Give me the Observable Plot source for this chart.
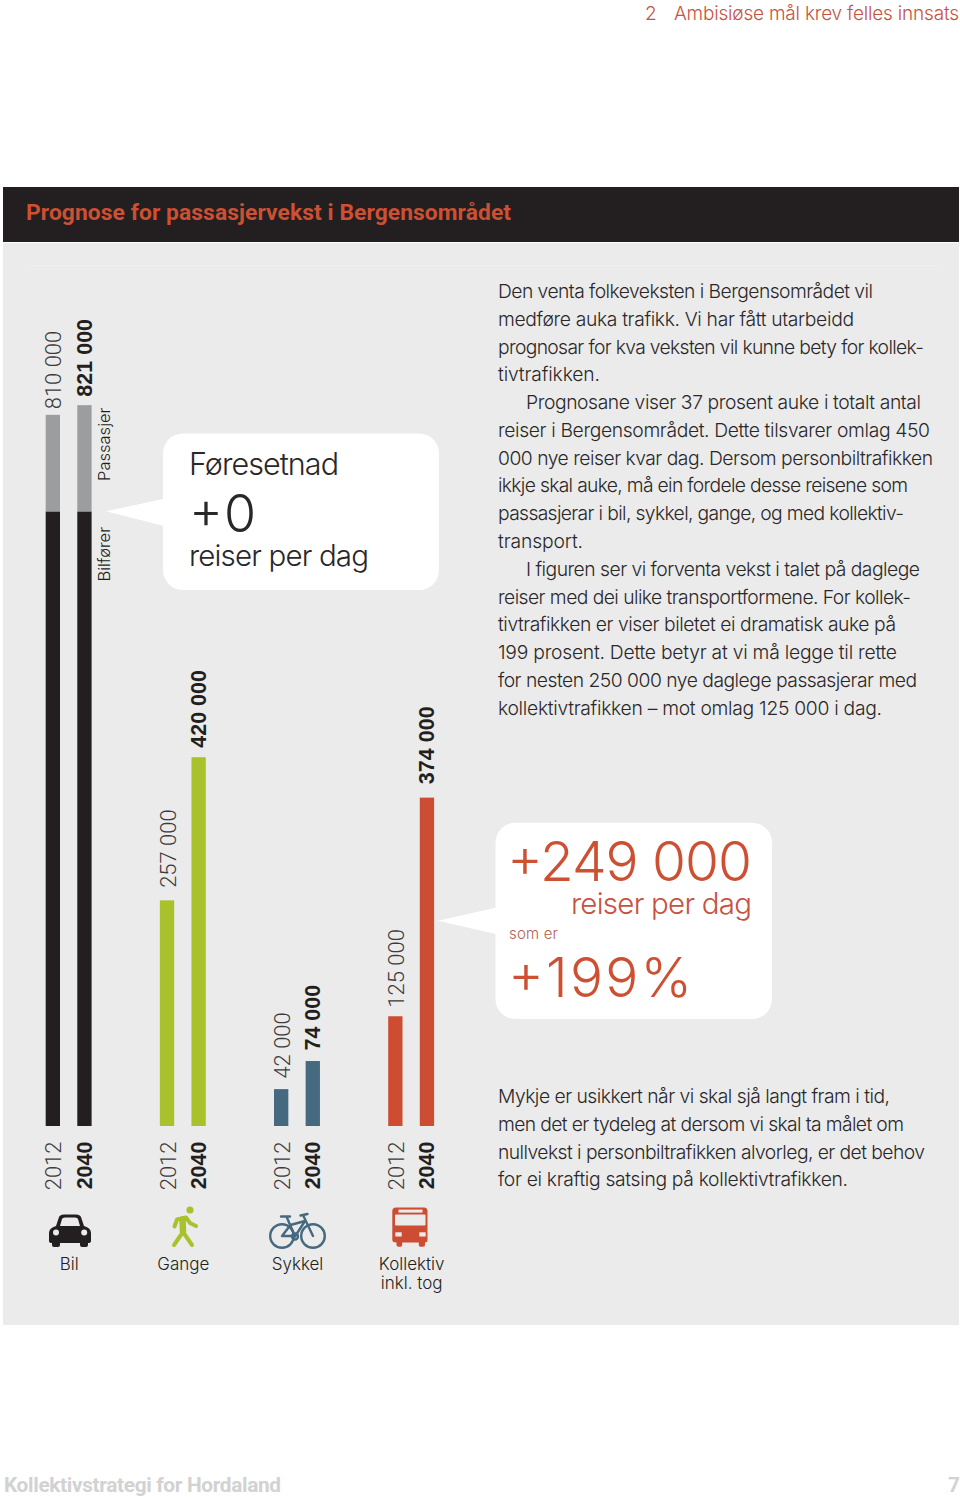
<!DOCTYPE html>
<html lang="nn">
<head>
<meta charset="utf-8">
<script src="https://cdn.jsdelivr.net/npm/d3@7"></script>
<script src="https://cdn.jsdelivr.net/npm/@observablehq/plot@0.6"></script>
<style>
html,body{margin:0;padding:0;background:#fff;width:960px;height:1497px;overflow:hidden}
#band{position:absolute;left:3px;top:187px;width:956px;height:55px;background:#231f20}
#chart{position:absolute;left:0;top:243px;width:960px;height:1082px}
#chart svg{display:block;background:transparent}
#panel{position:absolute;left:3px;top:243px;width:956px;height:1082px;background:#ebebeb}
#overlay{position:absolute;left:0;top:0}
</style>
</head>
<body>
<div id="band"></div>
<div id="panel"></div>
<div id="chart"></div>
<svg id="overlay" width="960" height="1497" viewBox="0 0 960 1497" xmlns="http://www.w3.org/2000/svg"></svg>
<script>
// ---- chart data (daily trips) ----
const modes = ["Bil", "Gange", "Sykkel", "Kollektiv"];
const modeLabels = ["Bil", "Gange", "Sykkel", "Kollektiv\ninkl. tog"];
const years = [2012, 2040];
const totals2012 = [810000, 257000, 42000, 125000];
const totals2040 = [821000, 420000, 74000, 374000];
const carDrivers = [700000, 700000];      // Bilfører 2012, 2040
const carPassengers = [110000, 121000];   // Passasjer 2012, 2040
const partKeys = ["Bilfører", "Passasjer", "Gange", "Sykkel", "Kollektiv"];
const partColors = ["#231f20", "#9c9d9f", "#a9c22c", "#45697f", "#cd4d33"];
// gap in px between bar end and its value label
const gaps2012 = [6, 13, 11, 9];
const gaps2040 = [9, 10, 11, 14];

// ---- derived tables ----
const fmt = v => String(v).replace(/\B(?=(\d{3})+$)/g, " ");
const bars = [];
years.forEach((year, j) => {
  bars.push({mode: "Bil", year, part: "Bilfører", value: carDrivers[j]});
  bars.push({mode: "Bil", year, part: "Passasjer", value: carPassengers[j]});
});
modes.slice(1).forEach((mode, i) => {
  bars.push({mode, year: 2012, part: mode, value: totals2012[i + 1]});
  bars.push({mode, year: 2040, part: mode, value: totals2040[i + 1]});
});
const labels2012 = modes.map((mode, i) => ({mode, year: 2012, value: totals2012[i]}));
const labels2040 = modes.map((mode, i) => ({mode, year: 2040, value: totals2040[i]}));
const modeRows = modes.map((mode, i) => ({mode, label: modeLabels[i]}));

const light = "Roboto, sans-serif";
const bold = "'Liberation Sans', Arial, sans-serif";
const ui = "Inter, sans-serif";
const rot = {rotate: -90, lineAnchor: "middle"};
const style2012 = {fontFamily: light, fontWeight: 300, fontSize: 22, fill: "#3d3a3b", dx: 1};
const style2040 = {fontFamily: bold, fontWeight: 700, fontSize: 21.5, fill: "#231f20"};

const chart = Plot.plot({
  width: 960, height: 1082,
  marginTop: 0, marginBottom: 199, marginLeft: 28.4, marginRight: 508.6,
  style: {background: "transparent", overflow: "visible"},
  fx: {domain: modes, axis: null, paddingInner: 0.2949, paddingOuter: 0, round: false, label: null},
  x: {type: "band", domain: years, axis: null, padding: 0.547, round: false, label: null},
  y: {domain: [0, 1005700], axis: null, label: null},
  color: {domain: partKeys, range: partColors},
  marks: [
    Plot.barY(bars, {fx: "mode", x: "year", y: "value", fill: "part", order: partKeys}),
    ...labels2012.map((d, i) => Plot.text([d], {fx: "mode", x: "year", y: "value", text: r => fmt(r.value), ...rot,
      textAnchor: "start", dy: -gaps2012[i], ...style2012})),
    ...labels2040.map((d, i) => Plot.text([d], {fx: "mode", x: "year", y: "value", text: r => fmt(r.value), ...rot,
      textAnchor: "start", dy: -gaps2040[i], ...style2040})),
    Plot.text(labels2012, {fx: "mode", x: "year", y: 0, text: d => String(d.year), ...rot,
      textAnchor: "end", dy: 15, ...style2012}),
    Plot.text(labels2040, {fx: "mode", x: "year", y: 0, text: d => String(d.year), ...rot,
      textAnchor: "end", dy: 15, ...style2040}),
    Plot.text([{mode: "Bil", year: 2040, value: carDrivers[1]}], {fx: "mode", x: "year", y: "value", text: () => "Bilfører", ...rot,
      textAnchor: "end", dx: 19.5, dy: 15, fontFamily: ui, fontWeight: 350, fontSize: 16.5, fill: "#231f20"}),
    Plot.text([{mode: "Bil", year: 2040, value: carDrivers[1]}], {fx: "mode", x: "year", y: "value", text: () => "Passasjer", ...rot,
      textAnchor: "start", dx: 19.5, dy: -31, fontFamily: ui, fontWeight: 350, fontSize: 16.5, fill: "#231f20"}),
    Plot.text(modeRows, {fx: "mode", y: 0, text: "label", lineAnchor: "top", lineHeight: 1.15, dy: 129.5,
      fontFamily: ui, fontWeight: 300, fontSize: 17, fill: "#231f20"})
  ]
});
document.getElementById("chart").append(chart);

// ---- page furniture: text with target extents ----
const ink = "#2a2728", red = "#cd5033";
const bodyText = [
  ["Den venta folkeveksten i Bergensområdet vil", 498, 873],
  ["medføre auka trafikk. Vi har fått utarbeidd", 498, 854],
  ["prognosar for kva veksten vil kunne bety for kollek-", 498, 924],
  ["tivtrafikken.", 498, 600],
  ["Prognosane viser 37 prosent auke i totalt antal", 526, 921],
  ["reiser i Bergensområdet. Dette tilsvarer omlag 450", 498, 930],
  ["000 nye reiser kvar dag. Dersom personbiltrafikken", 498, 933],
  ["ikkje skal auke, må ein fordele desse reisene som", 498, 908],
  ["passasjerar i bil, sykkel, gange, og med kollektiv-", 498, 904],
  ["transport.", 498, 583],
  ["I figuren ser vi forventa vekst i talet på daglege", 526, 920],
  ["reiser med dei ulike transportformene. For kollek-", 498, 911],
  ["tivtrafikken er viser biletet ei dramatisk auke på", 498, 896],
  ["199 prosent. Dette betyr at vi må legge til rette", 498, 897],
  ["for nesten 250 000 nye daglege passasjerar med", 498, 917],
  ["kollektivtrafikken – mot omlag 125 000 i dag.", 498, 882]
];
const closingText = [
  ["Mykje er usikkert når vi skal sjå langt fram i tid,", 498, 890],
  ["men det er tydeleg at dersom vi skal ta målet om", 498, 904],
  ["nullvekst i personbiltrafikken alvorleg, er det behov", 498, 925],
  ["for ei kraftig satsing på kollektivtrafikken.", 498, 848]
];
const NS = "http://www.w3.org/2000/svg";
const ov = document.getElementById("overlay");
function el(name, attrs, parent = ov) {
  const e = document.createElementNS(NS, name);
  for (const k in attrs) e.setAttribute(k, attrs[k]);
  parent.append(e);
  return e;
}
function txt(s, x0, x1, y, size, weight, fill, family = ui) {
  const t = el("text", {x: x0, y, "font-size": size, "font-weight": weight, fill, "font-family": family,
    textLength: x1 - x0, lengthAdjust: "spacing"});
  t.textContent = s;
}
// header, title, footer
txt("2", 645, 656, 20, 19, 300, "#c8523f");
txt("Ambisiøse mål krev felles innsats", 674, 959, 20, 19, 300, "#c8523f");
txt("Prognose for passasjervekst i Bergensområdet", 26, 511, 220, 22.8, 700, red, "Roboto, sans-serif");
txt("Kollektivstrategi for Hordaland", 4, 281, 1492, 20.8, 700, "#d2d2d2", "Roboto, sans-serif");
txt("7", 948, 958, 1492, 20.8, 700, "#d2d2d2", "Roboto, sans-serif");
el("line", {x1: 30, x2: 940, y1: 265.5, y2: 265.5, stroke: "#efefef", "stroke-width": 1});
// body copy
bodyText.forEach(([s, a, b], i) => txt(s, a, b, 298 + i * 27.78, 19.3, 300, ink));
closingText.forEach(([s, a, b], i) => txt(s, a, b, 1103 + i * 27.8, 19.3, 300, ink));
// callouts
el("path", {fill: "#fff", d: "M183 433.5H419a20 20 0 0 1 20 20V570a20 20 0 0 1-20 20H183a20 20 0 0 1-20-20V525.7L106 511.3L163 499V453.5a20 20 0 0 1 20-20Z"});
el("path", {fill: "#fff", d: "M515.5 822.7H752a20 20 0 0 1 20 20V999a20 20 0 0 1-20 20H515.5a20 20 0 0 1-20-20V934L438 920.7L495.5 907.7V842.7a20 20 0 0 1 20-20Z"});
txt("Føresetnad", 189, 339, 475, 30.5, 300, ink);
txt("+0", 189, 256, 532, 52, 300, ink);
txt("reiser per dag", 189, 369, 565.5, 29.5, 300, ink);
txt("+249 000", 507, 752, 881, 55, 300, red);
txt("reiser per dag", 571, 752, 914, 29.5, 300, "#c8523f");
txt("som er", 509, 558, 939, 15, 300, "#b5604f");
txt("+199%", 508, 692, 997, 55, 300, red);
// icons
el("path", {fill: "#231f20", "fill-rule": "evenodd", d: "M56 1226L59 1217Q60 1214.5 64 1214.5H76Q80 1214.5 81 1217L84 1226Q91 1228 91 1233V1241Q91 1243 88 1243V1245Q88 1247 86 1247H82Q80 1247 80 1245V1243H60V1245Q60 1247 58 1247H54Q52 1247 52 1245V1243Q49 1243 49 1241V1233Q49 1228 56 1226ZM60 1226H80L78 1219Q77.5 1217.5 75 1217.5H65Q62.5 1217.5 62 1219Z"});
el("circle", {cx: 56, cy: 1232.5, r: 3, fill: "#ebebeb"});
el("circle", {cx: 84.2, cy: 1232.5, r: 3, fill: "#ebebeb"});
const green = "#a9c22c";
el("circle", {cx: 190, cy: 1210, r: 3.6, fill: green});
el("path", {stroke: green, "stroke-width": 6.5, "stroke-linecap": "round", "stroke-linejoin": "round", fill: "none", d: "M182.5 1219.5L183 1231"});
el("path", {stroke: green, "stroke-width": 4, "stroke-linecap": "round", "stroke-linejoin": "round", fill: "none", d: "M174.5 1226.5L177 1219.5L186 1217.5L190 1223L196 1226M183 1232L174 1245M183 1232L192 1245"});
const blue = "#45697f";
const bikeG = el("g", {stroke: blue, fill: "none", "stroke-width": 2.4, "stroke-linecap": "round", "stroke-linejoin": "round"});
el("circle", {cx: 282, cy: 1236, r: 11.8}, bikeG);
el("circle", {cx: 313, cy: 1236, r: 11.8}, bikeG);
el("circle", {cx: 295, cy: 1236.5, r: 3}, bikeG);
el("path", {d: "M286.7 1217L295 1236.5L305 1221L290.5 1225L282 1236H295M303 1215L313 1236M281 1216.5H290M300.5 1215.5L307.5 1214"}, bikeG);
const redIcon = "#cd4d33", bg = "#ebebeb";
el("path", {fill: redIcon, d: "M396 1207.5H424Q427.5 1207.5 427.5 1211V1240Q427.5 1242.5 425 1242.5V1245Q425 1246.8 423 1246.8H420.5Q418.8 1246.8 418.8 1245V1242.5H402.2V1245Q402.2 1246.8 400.5 1246.8H398.5Q396.5 1246.8 396.5 1245V1242.5Q392.3 1242.5 392.3 1240V1211Q392.3 1207.5 396 1207.5Z"});
el("rect", {x: 398.5, y: 1209.6, width: 24, height: 3, fill: bg});
el("rect", {x: 395, y: 1214.5, width: 30.5, height: 11, rx: 1, fill: bg});
el("rect", {x: 395.3, y: 1232.3, width: 6.4, height: 4.2, fill: bg});
el("rect", {x: 419.3, y: 1232.3, width: 6.4, height: 4.2, fill: bg});
</script>
</body>
</html>
